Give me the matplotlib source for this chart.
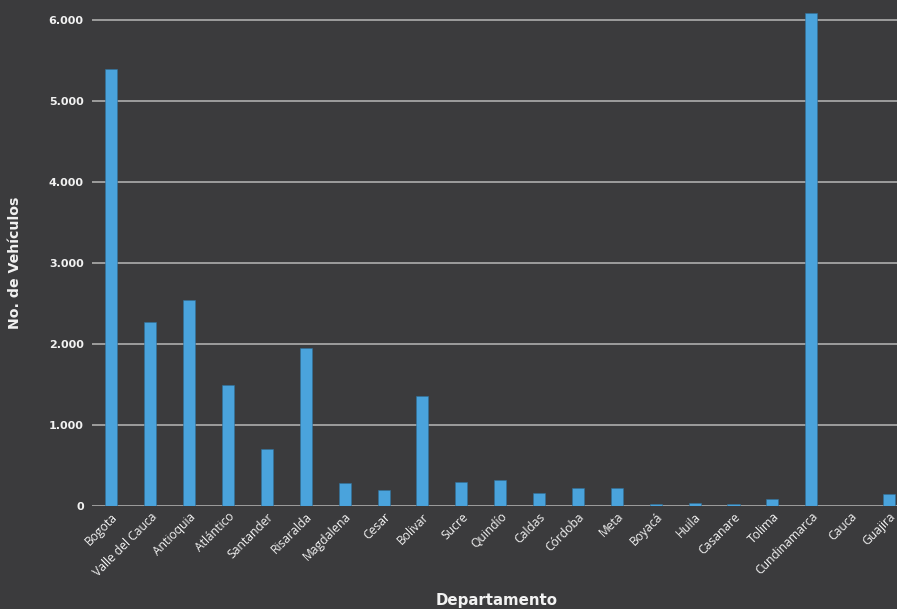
import numpy as np
import matplotlib
matplotlib.use("Agg")
import matplotlib.pyplot as plt
from matplotlib.ticker import FuncFormatter

# --- Data ---
departamentos = ["Bogota", "Valle del Cauca", "Antioquia", "Atlántico", "Santander",
                 "Risaralda", "Magdalena", "Cesar", "Bolivar", "Sucre", "Quindío",
                 "Caldas", "Córdoba", "Meta", "Boyacá", "Huila", "Casanare", "Tolima",
                 "Cundinamarca", "Cauca", "Guajira"]
vehiculos = [5390, 2270, 2540, 1490, 700, 1950, 288, 193, 1360, 300, 321,
             156, 222, 218, 25, 37, 22, 90, 6090, 3, 144]
y_ticks = [0, 1000, 2000, 3000, 4000, 5000, 6000]

BG = "#3b3b3d"
BAR = "#4aa3dc"
GRID = "#a5a5a5"
TXT = "#f2f2f2"

fig = plt.figure(figsize=(8.97, 6.09), dpi=100, facecolor=BG)
W, H = 897, 609
ax = fig.add_axes([92 / W, (H - 506) / H, (W - 92) / W, (506 - 5) / H])
ax.set_facecolor(BG)

x = np.arange(len(departamentos))
ax.bar(x, vehiculos, width=0.31, color=BAR, edgecolor="#2f6f99", linewidth=0.4, zorder=3)

step = 38.9
ax.set_xlim(-0.5, (W - 111) / step)
ax.set_ylim(0, (506 - 5) / 81 * 1000)
ax.set_yticks(y_ticks)
ax.yaxis.set_major_formatter(FuncFormatter(lambda v, p: f"{int(v):,}".replace(",", ".")))
ax.grid(axis="y", color=GRID, linewidth=1.3, zorder=1)
for s in ax.spines.values():
    s.set_visible(False)
ax.tick_params(axis="both", length=0, colors=TXT)
ax.tick_params(axis="y", pad=6)

for lbl in ax.get_yticklabels():
    lbl.set_fontweight("bold")
    lbl.set_fontsize(8)
    lbl.set_color(TXT)

ax.set_xticks(x)
ax.set_xticklabels(departamentos, rotation=45, ha="right", rotation_mode="anchor",
                   fontsize=8.7, color=TXT, family="Open Sans")
ax.tick_params(axis="x", pad=3)

fig.text(497 / W, 1 - 601 / H, "Departamento", ha="center", va="center",
         fontsize=10.8, fontweight="bold", color=TXT)
fig.text(15 / W, 1 - 263 / H, "No. de Vehículos", ha="center", va="center",
         rotation=90, fontsize=10.2, fontweight="bold", color=TXT)

fig.savefig("out.png", dpi=100, facecolor=BG)
